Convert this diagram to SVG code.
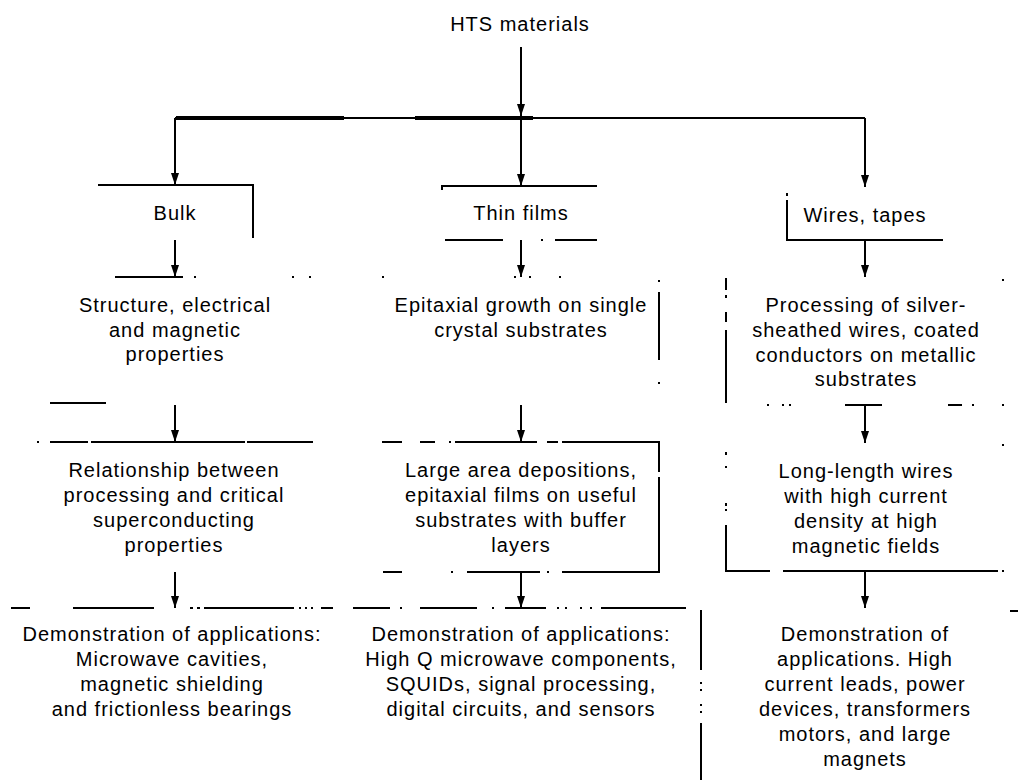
<svg xmlns="http://www.w3.org/2000/svg" width="1018" height="780" viewBox="0 0 1018 780">
  <style>
    text { font-family: "Liberation Sans", Arial, Helvetica, sans-serif; font-size: 20px; letter-spacing: 1px; fill: #000; text-anchor: middle; }
    .edge { fill: none; stroke: #000; stroke-width: 2; }
    .rule { fill: none; stroke: #000; stroke-width: 2; }
    .heavy { fill: none; stroke: #000; stroke-width: 4; }
  </style>
  <defs>
    <marker id="arrow" viewBox="0 -4 12 8" refX="12" refY="0" markerWidth="12" markerHeight="8" markerUnits="userSpaceOnUse" orient="auto">
      <path d="M0,-4 L12,0 L0,4 Z" fill="#000"/>
    </marker>
  </defs>
  <rect width="1018" height="780" fill="#fff"/>

  <!-- connectors -->
  <g id="connectors">
    <path class="edge" d="M521,47 V116" marker-end="url(#arrow)"/>
    <path class="edge" d="M175,118 H865"/>
    <path class="heavy" d="M176,118 H344 M415,118 H533"/>
    <path class="edge" d="M175,118 V185" marker-end="url(#arrow)"/>
    <path class="edge" d="M521,118 V186" marker-end="url(#arrow)"/>
    <path class="edge" d="M865,118 V187" marker-end="url(#arrow)"/>
    <path class="edge" d="M175,240 V277" marker-end="url(#arrow)"/>
    <path class="edge" d="M521,240 V277" marker-end="url(#arrow)"/>
    <path class="edge" d="M865,240 V277" marker-end="url(#arrow)"/>
    <path class="edge" d="M175,405 V442" marker-end="url(#arrow)"/>
    <path class="edge" d="M521,405 V442" marker-end="url(#arrow)"/>
    <path class="edge" d="M865,405 V443" marker-end="url(#arrow)"/>
    <path class="edge" d="M175,572 V608" marker-end="url(#arrow)"/>
    <path class="edge" d="M521,572 V608" marker-end="url(#arrow)"/>
    <path class="edge" d="M865,571 V608" marker-end="url(#arrow)"/>
  </g>

  <!-- root -->
  <g id="hts-materials">
    <text x="520" y="31">HTS materials</text>
  </g>

  <!-- first tier -->
  <g id="bulk">
    <path class="rule" d="M98,185 H253 V238"/>
    <text x="175" y="220">Bulk</text>
  </g>
  <g id="thin-films">
    <path class="rule" d="M442,190 V186 H597 M445,240 H503 M541,240 h2 M555,240 H597"/>
    <text x="521" y="220">Thin films</text>
  </g>
  <g id="wires-tapes">
    <path class="rule" d="M787,193 V196 M787,200 V240 H943"/>
    <text x="865" y="222">Wires, tapes</text>
  </g>

  <!-- second tier -->
  <g id="structure">
    <path class="rule" d="M115,277 H183 M194,277 h2 M292,277 h2 M309,277 h2 M50,403 H106"/>
    <text x="175" y="312">Structure, electrical</text>
    <text x="175" y="337">and magnetic</text>
    <text x="175" y="361">properties</text>
  </g>
  <g id="epitaxial-growth">
    <path class="rule" d="M382,277 h2 M514,277 h2 M529,277 h2 M559,277 h2 M659,280 v2 M659,292 V360 M659,382 v2"/>
    <text x="521" y="312">Epitaxial growth on single</text>
    <text x="521" y="337">crystal substrates</text>
  </g>
  <g id="processing">
    <path class="rule" d="M726,278 V290 M726,295 V298 M726,312 V322 M726,330 V403 M1003,279 v2 M767,405 h2 M782,405 h2 M789,405 h2 M845,405 H882 M948,405 H962 M972,405 h2 M1002,405 h2"/>
    <text x="866" y="312">Processing of silver-</text>
    <text x="866" y="337">sheathed wires, coated</text>
    <text x="866" y="362">conductors on metallic</text>
    <text x="866" y="386">substrates</text>
  </g>

  <!-- third tier -->
  <g id="relationship">
    <path class="rule" d="M37,442 h2 M50,442 H88 M91,442 H245 M247,442 H313"/>
    <text x="174" y="477">Relationship between</text>
    <text x="174" y="502">processing and critical</text>
    <text x="174" y="527">superconducting</text>
    <text x="174" y="552">properties</text>
  </g>
  <g id="large-area">
    <path class="rule" d="M382,442 H402 M420,442 H435 M449,442 h2 M455,442 H537 M547,442 H558 M562,442 H659 V472 M659,477 V572 H562 M547,572 h2 M467,572 H540 M451,572 h2 M383,572 H402"/>
    <text x="521" y="477">Large area depositions,</text>
    <text x="521" y="502">epitaxial films on useful</text>
    <text x="521" y="527">substrates with buffer</text>
    <text x="521" y="552">layers</text>
  </g>
  <g id="long-length">
    <path class="rule" d="M726,452 v3 M726,466 v2 M726,503 v3 M726,509 v2 M726,525 V571 H770 M783,571 H998 M1002,571 h2 M1003,444 v2"/>
    <text x="866" y="478">Long-length wires</text>
    <text x="866" y="503">with high current</text>
    <text x="866" y="528">density at high</text>
    <text x="866" y="553">magnetic fields</text>
  </g>

  <!-- applications -->
  <g id="applications-bulk">
    <path class="rule" d="M11,608 H30 M73,608 H154 M190,608 h3 M197,608 h3 M204,608 H294 M299,608 h2 M305,608 h2 M311,608 h2 M321,608 H333"/>
    <text x="172" y="641">Demonstration of applications:</text>
    <text x="172" y="666">Microwave cavities,</text>
    <text x="172" y="691">magnetic shielding</text>
    <text x="172" y="716">and frictionless bearings</text>
  </g>
  <g id="applications-films">
    <path class="rule" d="M353,608 H390 M400,608 h2 M420,608 H477 M492,608 h2 M505,608 H546 M557,608 h2 M565,608 h2 M580,608 h2 M590,608 h2 M601,608 H686 M701,610 V670 M701,682 v2 M701,689 v2 M701,704 v2 M701,711 v2 M701,723 V780"/>
    <text x="521" y="641">Demonstration of applications:</text>
    <text x="521" y="666">High Q microwave components,</text>
    <text x="521" y="691">SQUIDs, signal processing,</text>
    <text x="521" y="716">digital circuits, and sensors</text>
  </g>
  <g id="applications-wires">
    <path class="rule" d="M1010,611 H1018"/>
    <text x="865" y="641">Demonstration of</text>
    <text x="865" y="666">applications. High</text>
    <text x="865" y="691">current leads, power</text>
    <text x="865" y="716">devices, transformers</text>
    <text x="865" y="741">motors, and large</text>
    <text x="865" y="766">magnets</text>
  </g>
</svg>
